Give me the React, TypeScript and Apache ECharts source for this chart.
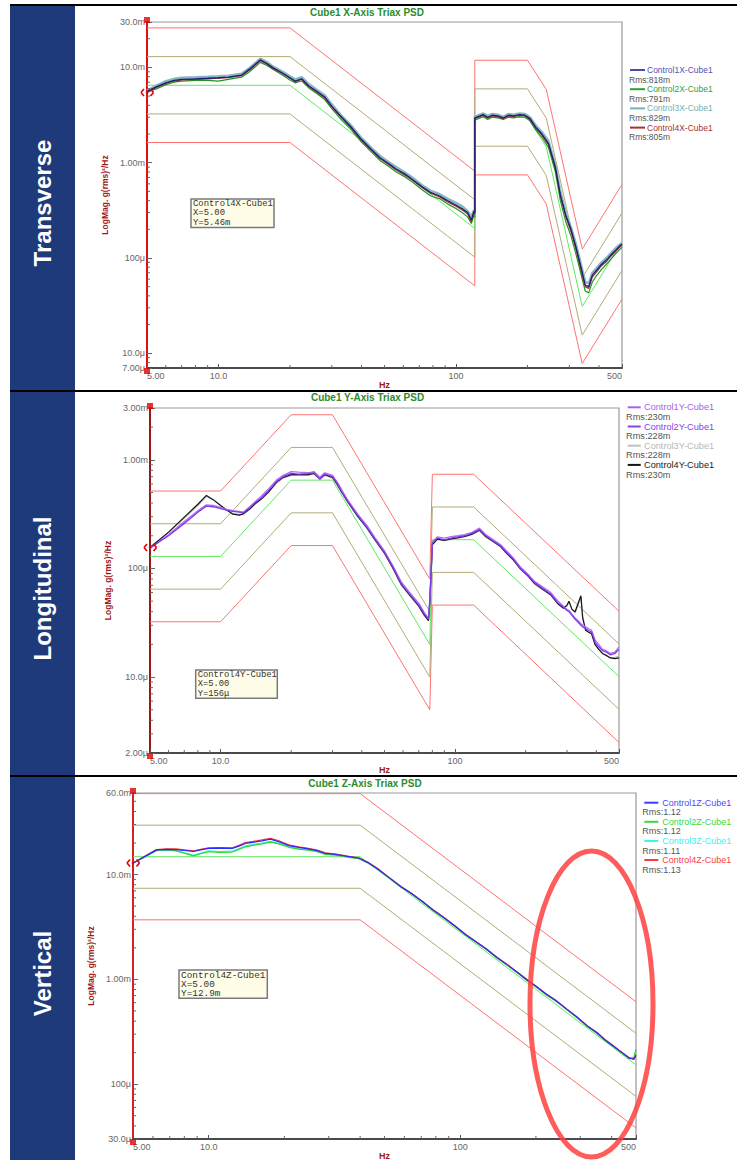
import React, { useEffect, useRef } from "react";
import * as echarts from "echarts";

// ---------------- DATA (values in milli g²/Hz unless noted) ----------------
// Panel 1 : X axis (Transverse)
const X_PROFILE_FREQ = [5, 20, 120, 120, 200, 240, 340, 500];
const X_REF = [6.5, 6.5, 0.204, 2.98, 2.98, 1.47, 0.031, 0.148];
const X_ALARM_HI = [13.0, 13.0, 0.408, 5.96, 5.96, 2.94, 0.062, 0.296];
const X_ALARM_LO = [3.25, 3.25, 0.102, 1.49, 1.49, 0.735, 0.0155, 0.074];
const X_ABORT_HI = [26.0, 26.0, 0.816, 11.9, 11.9, 5.88, 0.124, 0.592];
const X_ABORT_LO = [1.63, 1.63, 0.051, 0.745, 0.745, 0.368, 0.0078, 0.037];

const X_FREQ = [5, 5.5, 6, 6.5, 7, 8, 9, 10, 11, 12.5, 13.5, 15, 16, 17, 18.5, 20, 21, 22.4, 24, 26, 28, 30, 33, 36, 40, 44, 48, 52, 56, 61, 66, 72, 78, 85, 92, 100, 106, 112, 116, 119, 120, 120, 124, 130, 136, 142, 150, 158, 166, 175, 185, 195, 205, 217, 230, 245, 262, 275, 290, 305, 320, 335, 350, 362, 375, 390, 410, 430, 450, 475, 500];
const X_CTRL1 = [5.6, 6.3, 6.9, 7.3, 7.5, 7.6, 7.7, 7.8, 7.9, 8.3,
  9.6, 12.0, 11.0, 9.9, 8.8, 7.8, 7.2, 7.6, 6.4, 5.6,
  4.9, 3.9, 3.0, 2.4, 1.75, 1.38, 1.12, 0.98, 0.86, 0.76,
  0.66, 0.56, 0.49, 0.45, 0.40, 0.36, 0.33, 0.30, 0.25, 0.31,
  0.30, 2.95, 3.05, 3.2, 3.0, 3.15, 3.1, 2.95, 3.15, 3.1,
  3.2, 3.15, 2.9, 2.35, 2.0, 1.6, 0.9, 0.46, 0.28, 0.2,
  0.13, 0.082, 0.052, 0.05, 0.066, 0.074, 0.086, 0.095, 0.108, 0.124,
  0.14];
const X_CTRL2 = [5.5, 6.0, 6.6, 7.0, 7.2, 7.3, 7.3, 7.2, 7.5, 7.9,
  9.0, 11.3, 10.5, 9.5, 8.4, 7.4, 6.9, 7.2, 6.1, 5.3,
  4.6, 3.7, 2.8, 2.25, 1.65, 1.3, 1.05, 0.92, 0.8, 0.71,
  0.62, 0.52, 0.45, 0.42, 0.37, 0.33, 0.30, 0.27, 0.23, 0.28,
  0.27, 2.8, 2.9, 3.05, 2.85, 3.0, 2.95, 2.85, 3.0, 2.95,
  3.05, 3.0, 2.75, 2.2, 1.85, 1.45, 0.8, 0.4, 0.24, 0.17,
  0.11, 0.07, 0.045, 0.043, 0.056, 0.065, 0.076, 0.086, 0.098, 0.114,
  0.13];
const X_CTRL3 = [5.7, 6.5, 7.2, 7.6, 7.8, 7.9, 8.0, 8.1, 8.2, 8.6,
  9.9, 12.4, 11.4, 10.2, 9.1, 8.1, 7.5, 7.9, 6.7, 5.8,
  5.1, 4.1, 3.1, 2.5, 1.82, 1.43, 1.17, 1.02, 0.9, 0.79,
  0.69, 0.58, 0.51, 0.47, 0.42, 0.38, 0.35, 0.31, 0.27, 0.32,
  0.31, 3.05, 3.15, 3.3, 3.1, 3.25, 3.2, 3.05, 3.25, 3.2,
  3.3, 3.25, 3.0, 2.45, 2.1, 1.7, 0.95, 0.5, 0.3, 0.21,
  0.14, 0.088, 0.056, 0.054, 0.07, 0.078, 0.09, 0.1, 0.113, 0.13,
  0.145];
const X_CTRL4 = [5.46, 6.2, 6.8, 7.2, 7.4, 7.5, 7.6, 7.7, 7.8, 8.2,
  9.4, 11.8, 10.8, 9.7, 8.7, 7.7, 7.1, 7.5, 6.3, 5.5,
  4.8, 3.85, 2.95, 2.35, 1.72, 1.35, 1.1, 0.96, 0.84, 0.74,
  0.65, 0.55, 0.48, 0.44, 0.39, 0.35, 0.32, 0.29, 0.24, 0.30,
  0.29, 2.9, 3.0, 3.15, 2.95, 3.1, 3.05, 2.9, 3.1, 3.05,
  3.15, 3.1, 2.85, 2.3, 1.95, 1.55, 0.88, 0.45, 0.27, 0.19,
  0.125, 0.079, 0.05, 0.048, 0.063, 0.071, 0.083, 0.092, 0.105, 0.12,
  0.137];
const X_NAMES = ["Control1X-Cube1", "Control2X-Cube1", "Control3X-Cube1", "Control4X-Cube1"];
const X_RMS = ["Rms:818m", "Rms:791m", "Rms:829m", "Rms:805m"];

// Panel 2 : Y axis (Longitudinal)
const Y_PROFILE_FREQ = [5, 10, 20, 30, 78, 80, 120, 500];
const Y_REF = [0.129, 0.129, 0.65, 0.65, 0.020, 0.184, 0.184, 0.0101];
const Y_ALARM_HI = [0.258, 0.258, 1.3, 1.3, 0.040, 0.368, 0.368, 0.0202];
const Y_ALARM_LO = [0.0645, 0.0645, 0.325, 0.325, 0.010, 0.092, 0.092, 0.00505];
const Y_ABORT_HI = [0.516, 0.516, 2.6, 2.6, 0.080, 0.736, 0.736, 0.0404];
const Y_ABORT_LO = [0.0323, 0.0323, 0.1625, 0.1625, 0.005, 0.046, 0.046, 0.0025];

const Y_FREQ = [5, 6, 7, 8, 8.7, 9.3, 10, 10.6, 11.3, 12, 12.5, 13.3, 14, 15, 16, 17.3, 18.5, 20, 21.5, 23.6, 25, 26.5, 27.8, 30, 31.5, 33, 35, 38.5, 42, 45.5, 50, 54, 59, 64, 70, 74, 77, 78, 80, 84, 90, 96, 103, 110, 118, 127, 135, 145, 156, 166, 177, 190, 205, 218, 235, 256, 275, 290, 300, 306, 315, 325, 335, 344, 350, 360, 370, 382, 395, 410, 425, 441, 460, 480, 500];
const Y_CTRL1 = [0.152, 0.205, 0.27, 0.34, 0.385, 0.38, 0.365, 0.35, 0.34, 0.335,
  0.33, 0.37, 0.41, 0.47, 0.54, 0.65, 0.72, 0.78, 0.77, 0.76,
  0.78, 0.69, 0.76, 0.72, 0.62, 0.52, 0.42, 0.315, 0.25, 0.192,
  0.145, 0.108, 0.075, 0.06, 0.048, 0.039, 0.035, 0.052, 0.175, 0.195,
  0.19, 0.196, 0.2, 0.205, 0.215, 0.235, 0.205, 0.185, 0.166, 0.145,
  0.125, 0.103, 0.088, 0.076, 0.068, 0.06, 0.05, 0.045, 0.042, 0.041,
  0.038, 0.035, 0.033, 0.031, 0.03, 0.029, 0.028, 0.027, 0.022, 0.02,
  0.018, 0.0175, 0.0165, 0.017, 0.019];
const Y_CTRL2 = [0.155, 0.2, 0.26, 0.33, 0.375, 0.37, 0.355, 0.345, 0.335, 0.33,
  0.325, 0.36, 0.4, 0.45, 0.52, 0.63, 0.7, 0.75, 0.74, 0.745,
  0.76, 0.665, 0.74, 0.7, 0.6, 0.5, 0.41, 0.305, 0.24, 0.186,
  0.14, 0.105, 0.072, 0.058, 0.046, 0.038, 0.034, 0.05, 0.17, 0.19,
  0.183, 0.19, 0.195, 0.2, 0.21, 0.228, 0.2, 0.18, 0.162, 0.14,
  0.122, 0.1, 0.086, 0.074, 0.066, 0.058, 0.048, 0.044, 0.041, 0.04,
  0.037, 0.034, 0.032, 0.03, 0.029, 0.028, 0.027, 0.026, 0.021, 0.019,
  0.0175, 0.017, 0.016, 0.0165, 0.018];
const Y_CTRL3 = [0.156, 0.215, 0.29, 0.38, 0.46, 0.43, 0.38, 0.35, 0.32, 0.315,
  0.315, 0.35, 0.39, 0.44, 0.5, 0.61, 0.68, 0.72, 0.72, 0.72,
  0.74, 0.66, 0.72, 0.68, 0.58, 0.49, 0.4, 0.3, 0.235, 0.182,
  0.137, 0.102, 0.07, 0.056, 0.045, 0.037, 0.033, 0.048, 0.165, 0.185,
  0.18, 0.186, 0.19, 0.196, 0.205, 0.222, 0.196, 0.176, 0.158, 0.137,
  0.12, 0.098, 0.084, 0.072, 0.064, 0.057, 0.047, 0.043, 0.045, 0.049,
  0.042, 0.039, 0.046, 0.054, 0.036, 0.028, 0.026, 0.025, 0.02, 0.018,
  0.0165, 0.016, 0.015, 0.0152, 0.0155];
const Y_CTRL4 = [0.156, 0.216, 0.297, 0.39, 0.47, 0.43, 0.38, 0.345, 0.316, 0.31,
  0.318, 0.352, 0.392, 0.44, 0.505, 0.62, 0.69, 0.73, 0.73, 0.73,
  0.75, 0.67, 0.73, 0.69, 0.59, 0.495, 0.405, 0.3, 0.238, 0.184,
  0.138, 0.103, 0.071, 0.057, 0.045, 0.037, 0.033, 0.048, 0.166, 0.186,
  0.181, 0.187, 0.192, 0.197, 0.207, 0.225, 0.197, 0.178, 0.16, 0.138,
  0.12, 0.099, 0.085, 0.073, 0.065, 0.057, 0.047, 0.043, 0.046, 0.05,
  0.042, 0.04, 0.048, 0.056, 0.035, 0.027, 0.026, 0.025, 0.02, 0.018,
  0.0165, 0.0158, 0.015, 0.0148, 0.015];
const Y_NAMES = ["Control1Y-Cube1", "Control2Y-Cube1", "Control3Y-Cube1", "Control4Y-Cube1"];
const Y_RMS = ["Rms:230m", "Rms:228m", "Rms:228m", "Rms:230m"];

// Panel 3 : Z axis (Vertical)
const Z_PROFILE_FREQ = [5, 40, 500];
const Z_REF = [14.8, 14.8, 0.153];
const Z_ALARM_HI = [29.6, 29.6, 0.306];
const Z_ALARM_LO = [7.4, 7.4, 0.0765];
const Z_ABORT_HI = [59.2, 59.2, 0.612];
const Z_ABORT_LO = [3.7, 3.7, 0.0383];

const Z_FREQ = [5, 5.5, 6.2, 6.8, 7.4, 8, 8.7, 9.3, 10, 11, 12.4, 13.2, 14, 15, 16.3, 17.6, 19, 20.8, 22.8, 24.9, 27, 29.1, 32, 36.2, 39.6, 43, 47, 52, 58, 64, 71, 78, 86, 95, 105, 115, 127, 140, 155, 170, 185, 200, 220, 240, 265, 290, 320, 350, 380, 410, 440, 470, 490, 500];
const Z_CTRL1 = [12.9, 14.6, 17.2, 17.4, 17.3, 17.0, 16.6, 17.2, 17.8, 17.9,
  17.8, 18.7, 19.8, 20.3, 21.0, 21.8, 20.6, 18.9, 18.2, 17.6,
  16.9, 15.9, 15.6, 14.8, 14.3, 13.0, 11.3, 9.4, 7.7, 6.6,
  5.5, 4.6, 3.9, 3.25, 2.68, 2.3, 1.95, 1.62, 1.36, 1.15,
  0.98, 0.86, 0.72, 0.63, 0.52, 0.44, 0.36, 0.31, 0.26, 0.228,
  0.2, 0.178, 0.172, 0.19];
const Z_CTRL2 = [12.8, 14.5, 17.0, 17.2, 16.9, 16.0, 15.1, 15.8, 16.5, 16.3,
  16.4, 17.4, 18.4, 19.0, 19.6, 20.4, 19.6, 18.2, 17.5, 17.1,
  16.5, 15.6, 15.3, 14.6, 14.2, 12.9, 11.2, 9.3, 7.6, 6.55,
  5.45, 4.55, 3.85, 3.22, 2.65, 2.28, 1.93, 1.6, 1.35, 1.14,
  0.97, 0.85, 0.71, 0.62, 0.515, 0.435, 0.355, 0.305, 0.257, 0.225,
  0.197, 0.175, 0.18, 0.215];
const Z_CTRL3 = [12.9, 14.4, 16.9, 17.1, 16.8, 16.1, 15.3, 16.0, 16.8, 16.6,
  16.7, 17.7, 18.8, 19.3, 20.0, 20.8, 19.9, 18.4, 17.7, 17.2,
  16.6, 15.7, 15.4, 14.7, 14.2, 12.9, 11.2, 9.35, 7.65, 6.58,
  5.48, 4.58, 3.88, 3.24, 2.66, 2.29, 1.94, 1.61, 1.35, 1.15,
  0.975, 0.855, 0.715, 0.625, 0.518, 0.438, 0.358, 0.308, 0.259, 0.227,
  0.199, 0.177, 0.176, 0.2];
const Z_CTRL4 = [12.9, 14.7, 17.3, 17.6, 17.6, 17.2, 16.8, 17.4, 18.0, 18.1,
  18.0, 19.0, 20.2, 20.7, 21.4, 22.2, 21.0, 19.2, 18.4, 17.8,
  17.1, 16.1, 15.7, 14.9, 14.4, 13.1, 11.4, 9.45, 7.75, 6.65,
  5.52, 4.62, 3.92, 3.27, 2.7, 2.31, 1.96, 1.63, 1.37, 1.16,
  0.99, 0.865, 0.725, 0.632, 0.523, 0.442, 0.362, 0.312, 0.262, 0.229,
  0.201, 0.179, 0.174, 0.185];
const Z_NAMES = ["Control1Z-Cube1", "Control2Z-Cube1", "Control3Z-Cube1", "Control4Z-Cube1"];
const Z_RMS = ["Rms:1.12", "Rms:1.12", "Rms:1.11", "Rms:1.13"];

// Axis ranges (g²/Hz) and cursor readouts
const X_RANGE_HZ = [5, 500];
const Y_RANGES = [[7e-6, 3e-2], [2e-6, 3e-3], [3e-5, 6e-2]];
const CURSOR_VALUES = [5.46e-3, 156e-6, 12.9e-3];
const CURSOR_TEXT = [
  ["Control4X-Cube1", "X=5.00", "Y=5.46m"],
  ["Control4Y-Cube1", "X=5.00", "Y=156\u03bc"],
  ["Control4Z-Cube1", "X=5.00", "Y=12.9m"],
];
const ROW_LABELS = ["Transverse", "Longitudinal", "Vertical"];
const TITLES = ["Cube1 X-Axis Triax PSD", "Cube1 Y-Axis Triax PSD", "Cube1 Z-Axis Triax PSD"];

// ---------------- STYLE / LAYOUT ----------------
const FONT = '"Liberation Sans", Arial, sans-serif';
const MONO = '"Liberation Mono", "DejaVu Sans Mono", monospace';
const C_ABORT = "#ff7272";
const C_ALARM = "#b3ab78";
const C_REF = "#62e862";

const PANELS = [
  {
    grid: { left: 147, top: 22, width: 475, height: 346 },
    axisColor: "#e01010",
    prof: [X_PROFILE_FREQ, X_REF, X_ALARM_HI, X_ALARM_LO, X_ABORT_HI, X_ABORT_LO],
    freq: X_FREQ, ctrl: [X_CTRL1, X_CTRL2, X_CTRL3, X_CTRL4],
    colors: ["#1e1e78", "#249424", "#86b8c4", "#a02828"],
    legendLine: ["#4a4aa8", "#2f9f2f", "#74b2b6", "#a83030"],
    textColors: ["#5252b0", "#33a033", "#72b0b4", "#a83232"],
    widths: [1.3, 1.2, 2.4, 1.2], order: [2, 1, 3, 0],
    names: X_NAMES, rms: X_RMS,
    titleX: 367, titleY: 12.5,
    annot: { x: 191, y: 199, w: 83, h: 28.5, fs: 8.9 },
    legend: { l1: 630, l2: 645, tx: 647, rx: 629, y0: 70, dy: 19.2, rdy: 9.5, fs: 8.5 },
    yGap: 27, band: [6, 390], hzGap: 12,
  },
  {
    grid: { left: 150, top: 408, width: 469, height: 345 },
    axisColor: "#9c1414",
    prof: [Y_PROFILE_FREQ, Y_REF, Y_ALARM_HI, Y_ALARM_LO, Y_ABORT_HI, Y_ABORT_LO],
    freq: Y_FREQ, ctrl: [Y_CTRL1, Y_CTRL2, Y_CTRL3, Y_CTRL4],
    colors: ["#b46cf4", "#7c3ae6", "#b8b8b8", "#151515"],
    legendLine: ["#a860f0", "#8a40ee", "#c0c0c0", "#151515"],
    textColors: ["#a860f0", "#8a40ee", "#b8b8b8", "#222222"],
    widths: [1.3, 1.3, 1.2, 1.2], order: [2, 3, 0, 1],
    names: Y_NAMES, rms: Y_RMS,
    titleX: 367.5, titleY: 397.3,
    annot: { x: 195.7, y: 670, w: 81.6, h: 28.3, fs: 8.8 },
    legend: { l1: 627.7, l2: 640.7, tx: 644, rx: 626, y0: 407.3, dy: 19.2, rdy: 9.7, fs: 9.2 },
    yGap: 30, band: [392, 775], hzGap: 10,
  },
  {
    grid: { left: 133, top: 793, width: 503, height: 346 },
    axisColor: "#d82020",
    prof: [Z_PROFILE_FREQ, Z_REF, Z_ALARM_HI, Z_ALARM_LO, Z_ABORT_HI, Z_ABORT_LO],
    freq: Z_FREQ, ctrl: [Z_CTRL1, Z_CTRL2, Z_CTRL3, Z_CTRL4],
    colors: ["#2a2aff", "#2ed82e", "#30eeee", "#ff3030"],
    legendLine: ["#3a3aff", "#3ad83a", "#3af0f0", "#ff3a3a"],
    textColors: ["#4a4aff", "#3ad83a", "#40f0f0", "#ff4040"],
    widths: [1.2, 1.2, 1.2, 1.2], order: [2, 1, 3, 0],
    names: Z_NAMES, rms: Z_RMS,
    titleX: 365, titleY: 783.3,
    annot: { x: 179, y: 970, w: 88.3, h: 28.3, fs: 9.4 },
    legend: { l1: 644.3, l2: 658.3, tx: 662.3, rx: 642.3, y0: 802.7, dy: 19.1, rdy: 9.6, fs: 9 },
    yGap: 32, band: [777, 1160], hzGap: 11,
  },
];

function fmt(v: number): string {
  const a = Number(Math.abs(v).toPrecision(6));
  if (a === 0) return "0";
  if (a < 1e-3) return (a * 1e6).toPrecision(3) + "\u03bc";
  if (a < 1) return (a * 1e3).toPrecision(3) + "m";
  return a.toPrecision(3);
}

function minorTicks(min: number, max: number): number[] {
  const out: number[] = [];
  for (let e = Math.floor(Math.log10(min)) - 1; e <= Math.ceil(Math.log10(max)); e++) {
    for (let m = 2; m <= 9; m++) {
      const v = m * Math.pow(10, e);
      if (v > min * 1.0001 && v < max * 0.9999) out.push(v);
    }
  }
  return out;
}

function buildOption() {
  const grids: any[] = [];
  const xAxes: any[] = [];
  const yAxes: any[] = [];
  const series: any[] = [];
  const graphics: any[] = [];

  // Left band and table borders
  graphics.push({ type: "rect", shape: { x: 10, y: 6, width: 65, height: 1154 }, style: { fill: "#1f3a7a" }, z: 1 });
  [5, 391, 776].forEach((y) =>
    graphics.push({ type: "line", shape: { x1: 10, y1: y, x2: 737, y2: y }, style: { stroke: "#000", lineWidth: 2 }, z: 2 })
  );

  PANELS.forEach((p, i) => {
    const [yMin, yMax] = Y_RANGES[i];
    const mk = (freq: number[], vals: number[]) => freq.map((f, k) => [f, vals[k] * 1e-3]);

    grids.push({ ...p.grid, show: true, borderColor: "#9a9a9a", borderWidth: 1.2, backgroundColor: "#fff", containLabel: false, outerBoundsMode: "none" });

    xAxes.push({
      type: "log", logBase: 10, gridIndex: i, min: X_RANGE_HZ[0], max: X_RANGE_HZ[1],
      axisLine: { show: true, lineStyle: { color: "#4a4a4a", width: 2 } },
      axisTick: { show: true, inside: true, length: 4, lineStyle: { color: "#555", width: 1 } },
      axisLabel: {
        show: true, color: "#666", fontSize: 9, fontFamily: FONT, margin: 3, formatter: fmt,
        showMinLabel: true, showMaxLabel: true, alignMinLabel: "left", alignMaxLabel: "right",
      },
      splitLine: { show: false },
      name: "Hz", nameLocation: "middle", nameGap: p.hzGap,
      nameTextStyle: { color: "#a01818", fontWeight: "bold", fontSize: 9, fontFamily: FONT },
    });

    yAxes.push({
      type: "log", logBase: 10, gridIndex: i, min: yMin, max: yMax,
      axisLine: { show: true, lineStyle: { color: p.axisColor, width: 2 } },
      axisTick: { show: true, inside: true, length: 5, lineStyle: { color: "#666", width: 1 } },
      axisLabel: { show: true, color: "#666", fontSize: 9, fontFamily: FONT, margin: 2, formatter: fmt, showMinLabel: true, showMaxLabel: true },
      splitLine: { show: false },
      name: "LogMag. g(rms)\u00b2/Hz", nameLocation: "middle", nameRotate: 90, nameGap: p.yGap,
      nameTextStyle: { color: "#a01818", fontWeight: "bold", fontSize: 8.5, fontFamily: FONT },
    });

    // Profile lines
    const [pf, ref, ahi, alo, bhi, blo] = p.prof;
    const prof = (vals: number[], color: string) => ({
      type: "line", xAxisIndex: i, yAxisIndex: i, data: mk(pf, vals), showSymbol: false, symbol: "none",
      lineStyle: { color, width: 1 }, itemStyle: { color }, z: 2, silent: true,
    });
    series.push(prof(bhi, C_ABORT), prof(blo, C_ABORT), prof(ahi, C_ALARM), prof(alo, C_ALARM), prof(ref, C_REF));

    // Measured lines
    p.order.forEach((c) => {
      series.push({
        type: "line", xAxisIndex: i, yAxisIndex: i, data: mk(p.freq, p.ctrl[c]), showSymbol: false, symbol: "none",
        lineStyle: { color: p.colors[c], width: p.widths[c] }, itemStyle: { color: p.colors[c] }, z: 3, silent: true,
      });
    });

    // Minor ticks
    const xm = minorTicks(X_RANGE_HZ[0], X_RANGE_HZ[1]).map((f) => [f, yMin, 0]);
    const ym = minorTicks(yMin, yMax).map((v) => [X_RANGE_HZ[0], v, 1]);
    series.push({
      type: "custom", xAxisIndex: i, yAxisIndex: i, silent: true, z: 4, clip: false,
      data: [...xm, ...ym], encode: { x: 0, y: 1 },
      renderItem: (_params: any, api: any) => {
        const pt = api.coord([api.value(0), api.value(1)]);
        const k = api.value(2);
        const shape = k === 0
          ? { x1: pt[0], y1: pt[1], x2: pt[0], y2: pt[1] - 3 }
          : { x1: pt[0], y1: pt[1], x2: pt[0] + 3, y2: pt[1] };
        return { type: "line", shape, style: { stroke: "#666", lineWidth: 1 } };
      },
    });

    // Axis end squares
    series.push({
      type: "scatter", xAxisIndex: i, yAxisIndex: i, silent: true, z: 6, clip: false,
      symbol: "rect", symbolSize: 6, itemStyle: { color: "#e00000" },
      data: [
        { value: [X_RANGE_HZ[0], yMax], symbolOffset: [0, -2] },
        { value: [X_RANGE_HZ[0], yMin], symbolOffset: [0, 3] },
      ],
    });
    // Cursor marker  < · >
    series.push({
      type: "custom", xAxisIndex: i, yAxisIndex: i, silent: true, z: 20, clip: false,
      data: [[X_RANGE_HZ[0], CURSOR_VALUES[i]]], encode: { x: 0, y: 1 },
      renderItem: (_params: any, api: any) => {
        const pt = api.coord([api.value(0), api.value(1)]);
        const c = "#e00000";
        const seg = (x1: number, y1: number, x2: number, y2: number) => ({
          type: "line", shape: { x1, y1, x2, y2 }, style: { stroke: c, lineWidth: 1.6 }, z2: 50,
        });
        const x = pt[0], y = pt[1];
        return {
          type: "group",
          children: [
            seg(x - 3, y - 3.5, x - 6, y), seg(x - 6, y, x - 3, y + 3.5),
            seg(x + 3.5, y - 3.5, x + 6.5, y), seg(x + 6.5, y, x + 3.5, y + 3.5),
            { type: "circle", shape: { cx: x, cy: y, r: 1.3 }, style: { fill: c }, z2: 50 },
          ],
        };
      },
    });

    // Title
    graphics.push({
      type: "text", x: p.titleX, y: p.titleY, z: 10,
      style: { text: TITLES[i], fill: "#2b8c2b", font: `bold 10px ${FONT}`, textAlign: "center", textVerticalAlign: "middle", verticalAlign: "middle" },
    });

    // Row label in band
    graphics.push({
      type: "text", x: 42.5, y: (p.band[0] + p.band[1]) / 2 + 5, rotation: Math.PI / 2, z: 10,
      style: { text: ROW_LABELS[i], fill: "#ffffff", font: `bold 24px ${FONT}`, textAlign: "center", textVerticalAlign: "middle", verticalAlign: "middle" },
    });

    // Annotation box
    const a = p.annot;
    graphics.push({ type: "rect", shape: { x: a.x, y: a.y, width: a.w, height: a.h }, style: { fill: "#fffde8", stroke: "#7a7a7a", lineWidth: 1.5 }, z: 10 });
    CURSOR_TEXT[i].forEach((t, k) => {
      graphics.push({
        type: "text", x: a.x + 2, y: a.y + 5 + k * 9.3, z: 11,
        style: { text: t, fill: "#333", font: `${a.fs}px ${MONO}`, textAlign: "left", textVerticalAlign: "middle", verticalAlign: "middle" },
      });
    });

    // Legend
    const L = p.legend;
    p.names.forEach((n, k) => {
      const y = L.y0 + k * L.dy;
      graphics.push({ type: "line", shape: { x1: L.l1, y1: y, x2: L.l2, y2: y }, style: { stroke: p.legendLine[k], lineWidth: 2 }, z: 10 });
      graphics.push({
        type: "text", x: L.tx, y, z: 10,
        style: { text: n, fill: p.textColors[k], font: `${L.fs}px ${FONT}`, textAlign: "left", textVerticalAlign: "middle", verticalAlign: "middle" },
      });
      graphics.push({
        type: "text", x: L.rx, y: y + L.rdy, z: 10,
        style: { text: p.rms[k], fill: "#555", font: `${L.fs}px ${FONT}`, textAlign: "left", textVerticalAlign: "middle", verticalAlign: "middle" },
      });
    });
  });

  // Highlight ellipse on vertical panel
  graphics.push({
    type: "ellipse", shape: { cx: 591.5, cy: 1004, rx: 61.5, ry: 153 }, z: 100,
    style: { fill: "none", stroke: "rgba(255,64,64,0.85)", lineWidth: 5 },
  });

  return {
    animation: false,
    backgroundColor: "#ffffff",
    grid: grids,
    xAxis: xAxes,
    yAxis: yAxes,
    series,
    graphic: { elements: graphics },
  };
}

export default function App() {
  const ref = useRef<HTMLDivElement>(null);
  useEffect(() => {
    if (!ref.current) return;
    const chart = echarts.init(ref.current, undefined, { renderer: "svg" });
    chart.setOption(buildOption() as any);
    return () => chart.dispose();
  }, []);
  return (
    <div
      ref={ref}
      style={{ position: "absolute", left: 0, top: 0, width: 737, height: 1160, background: "#fff" }}
    />
  );
}
